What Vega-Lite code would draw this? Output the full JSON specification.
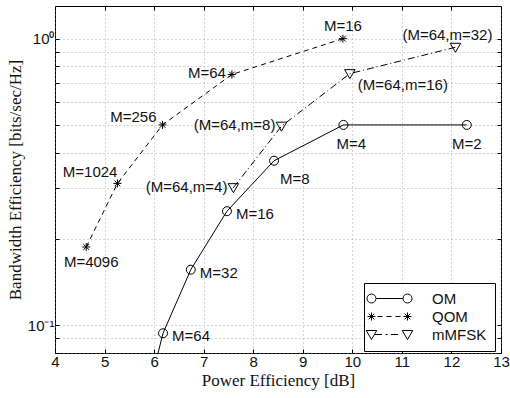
{
  "$schema": "https://vega.github.io/schema/vega-lite/v6.json",
  "width": 446,
  "height": 347,
  "autosize": {"type": "none"},
  "padding": {"left": 55, "top": 6, "right": 9, "bottom": 45},
  "background": "white",
  "config": {
    "view": {"stroke": "black", "strokeWidth": 1},
    "font": "Liberation Sans",
    "text": {"font": "Liberation Sans", "fontSize": 15, "color": "#111", "baseline": "middle"}
  },
  "data": {
    "values": [
      {"series": "OM", "label": "M=128", "x": 5.84, "y": 0.0547},
      {"series": "OM", "label": "M=64", "x": 6.18, "y": 0.09375},
      {"series": "OM", "label": "M=32", "x": 6.74, "y": 0.15625},
      {"series": "OM", "label": "M=16", "x": 7.47, "y": 0.25},
      {"series": "OM", "label": "M=8", "x": 8.42, "y": 0.375},
      {"series": "OM", "label": "M=4", "x": 9.82, "y": 0.5},
      {"series": "OM", "label": "M=2", "x": 12.31, "y": 0.5},
      {"series": "QOM", "label": "M=4096", "x": 4.63, "y": 0.1875},
      {"series": "QOM", "label": "M=1024", "x": 5.26, "y": 0.3125},
      {"series": "QOM", "label": "M=256", "x": 6.17, "y": 0.5},
      {"series": "QOM", "label": "M=64", "x": 7.57, "y": 0.75},
      {"series": "QOM", "label": "M=16", "x": 9.81, "y": 1.0},
      {"series": "mMFSK", "label": "(M=64,m=4)", "x": 7.6, "y": 0.302},
      {"series": "mMFSK", "label": "(M=64,m=8)", "x": 8.57, "y": 0.495},
      {"series": "mMFSK", "label": "(M=64,m=16)", "x": 9.95, "y": 0.755},
      {"series": "mMFSK", "label": "(M=64,m=32)", "x": 12.08, "y": 0.933}
    ]
  },
  "layer": [
    {
      "transform": [{"filter": "datum.series == 'OM'"}],
      "mark": {"type": "line", "color": "black", "strokeWidth": 1, "clip": true},
      "encoding": {
        "x": {
          "field": "x", "type": "quantitative",
          "scale": {"domain": [4, 13], "nice": false, "zero": false},
          "axis": {
            "orient": "bottom",
            "values": [4, 5, 6, 7, 8, 9, 10, 11, 12, 13],
            "format": "d",
            "grid": true, "gridDash": [1, 3], "gridColor": "#888", "gridOpacity": 0.7,
            "domain": false,
            "tickSize": -4, "tickColor": "black",
            "labelFont": "Liberation Sans", "labelFontSize": 15, "labelColor": "#111", "labelPadding": 5,
            "labelOverlap": false, "labelFlush": false,
            "title": "Power Efficiency [dB]",
            "titleFont": "Liberation Serif", "titleFontSize": 17, "titleFontWeight": "normal", "titleColor": "#111",
            "titlePadding": 3
          }
        },
        "y": {
          "field": "y", "type": "quantitative",
          "scale": {"type": "log", "domain": [0.08, 1.3], "nice": false},
          "axis": {
            "orient": "left",
            "values": [0.08, 0.09, 0.1, 0.2, 0.3, 0.4, 0.5, 0.6, 0.7, 0.8, 0.9, 1],
            "labelExpr": "abs(datum.value - 1) < 1e-9 ? '10⁰' : (abs(datum.value - 0.1) < 1e-9 ? '10⁻¹' : '')",
            "grid": true, "gridDash": [1, 3], "gridColor": "#888", "gridOpacity": 0.7,
            "domain": false,
            "tickSize": -4, "tickColor": "black",
            "labelFont": "Liberation Sans", "labelFontSize": 15, "labelColor": "#111", "labelPadding": 5,
            "labelOverlap": false, "labelFlush": false,
            "title": "Bandwidth Efficiency [bits/sec/Hz]",
            "titleFont": "Liberation Serif", "titleFontSize": 17, "titleFontWeight": "normal", "titleColor": "#111",
            "titlePadding": 3
          }
        },
        "order": {"field": "x", "type": "quantitative"}
      }
    },
    {
      "transform": [{"filter": "datum.series == 'QOM'"}],
      "mark": {"type": "line", "color": "black", "strokeWidth": 1, "strokeDash": [5, 4], "clip": true},
      "encoding": {
        "x": {"field": "x", "type": "quantitative", "axis": null},
        "y": {"field": "y", "type": "quantitative", "axis": null},
        "order": {"field": "x", "type": "quantitative"}
      }
    },
    {
      "transform": [{"filter": "datum.series == 'mMFSK'"}],
      "mark": {"type": "line", "color": "black", "strokeWidth": 1, "strokeDash": [7, 3, 1, 3], "clip": true},
      "encoding": {
        "x": {"field": "x", "type": "quantitative", "axis": null},
        "y": {"field": "y", "type": "quantitative", "axis": null},
        "order": {"field": "x", "type": "quantitative"}
      }
    },
    {
      "mark": {"type": "point", "filled": false, "stroke": "black", "strokeWidth": 1, "opacity": 1, "size": 100, "clip": true},
      "encoding": {
        "x": {
          "field": "x", "type": "quantitative",
          "axis": {"orient": "top", "values": [4, 5, 6, 7, 8, 9, 10, 11, 12, 13], "labels": false, "title": null, "grid": false, "domain": false, "tickSize": -4, "tickColor": "black"}
        },
        "y": {
          "field": "y", "type": "quantitative",
          "axis": {"orient": "right", "values": [0.08, 0.09, 0.1, 0.2, 0.3, 0.4, 0.5, 0.6, 0.7, 0.8, 0.9, 1], "labels": false, "title": null, "grid": false, "domain": false, "tickSize": -4, "tickColor": "black"}
        },
        "shape": {
          "field": "series", "type": "nominal",
          "scale": {"domain": ["OM", "QOM", "mMFSK"], "range": ["M0.9,0A0.9,0.9,0,1,1,-0.9,0A0.9,0.9,0,1,1,0.9,0", "M0,-0.8L0,0.8M-0.8,0L0.8,0M-0.57,-0.57L0.57,0.57M-0.57,0.57L0.57,-0.57", "M-1.05,-0.8L1.05,-0.8L0,1Z"]},
          "legend": null
        }
      }
    },
    {
      "mark": {"type": "point", "filled": false, "stroke": "black", "strokeWidth": 1, "opacity": 0, "size": 100},
      "encoding": {
        "x": {"field": "x", "type": "quantitative", "axis": null},
        "y": {"field": "y", "type": "quantitative", "axis": null},
        "shape": {
          "field": "series", "type": "nominal",
          "scale": {"domain": ["OM", "QOM", "mMFSK"], "range": [
            "M-0.7,0A0.9,0.9,0,1,1,-2.5,0A0.9,0.9,0,1,1,-0.7,0L4.7,0A0.9,0.9,0,1,1,6.5,0A0.9,0.9,0,1,1,4.7,0",
            "M-1.6,-0.8L-1.6,0.8M-2.4,0L-0.8,0M-2.17,-0.57L-1.03,0.57M-2.17,0.57L-1.03,-0.57M-0.4,0L0.6,0M1.4,0L2.4,0M3.2,0L4.2,0M5.6,-0.8L5.6,0.8M4.8,0L6.4,0M5.03,-0.57L6.17,0.57M5.03,0.57L6.17,-0.57",
            "M-2.65,-0.8L-0.55,-0.8L-1.6,1ZM-1,0L0.5,0M1.2,0L1.6,0M2.3,0L3.7,0M4.55,-0.8L6.65,-0.8L5.6,1Z"
          ]},
          "legend": {
            "orient": "none", "legendX": 309, "legendY": 277,
            "title": null, "padding": 8,
            "fillColor": "white", "strokeColor": "black",
            "labelFont": "Liberation Sans", "labelFontSize": 15, "labelColor": "#111", "labelOffset": 45,
            "rowPadding": 2,
            "symbolSize": 100, "symbolStrokeWidth": 1, "symbolStrokeColor": "black", "symbolFillColor": "transparent",
            "symbolOpacity": 1
          }
        }
      }
    },
    {
      "transform": [{"filter": "datum.series == 'OM' && indexof(['M=64','M=32','M=16'], datum.label) >= 0"}],
      "mark": {"type": "text", "align": "left", "dx": 9, "dy": 3},
      "encoding": {
        "x": {"field": "x", "type": "quantitative", "axis": null},
        "y": {"field": "y", "type": "quantitative", "axis": null},
        "text": {"field": "label"}
      }
    },
    {
      "transform": [{"filter": "datum.series == 'OM' && datum.label == 'M=8'"}],
      "mark": {"type": "text", "align": "left", "dx": 6, "dy": 18},
      "encoding": {
        "x": {"field": "x", "type": "quantitative", "axis": null},
        "y": {"field": "y", "type": "quantitative", "axis": null},
        "text": {"field": "label"}
      }
    },
    {
      "transform": [{"filter": "datum.series == 'OM' && datum.label == 'M=4'"}],
      "mark": {"type": "text", "align": "center", "dx": 8, "dy": 19},
      "encoding": {
        "x": {"field": "x", "type": "quantitative", "axis": null},
        "y": {"field": "y", "type": "quantitative", "axis": null},
        "text": {"field": "label"}
      }
    },
    {
      "transform": [{"filter": "datum.series == 'OM' && datum.label == 'M=2'"}],
      "mark": {"type": "text", "align": "center", "dx": 0, "dy": 19},
      "encoding": {
        "x": {"field": "x", "type": "quantitative", "axis": null},
        "y": {"field": "y", "type": "quantitative", "axis": null},
        "text": {"field": "label"}
      }
    },
    {
      "transform": [{"filter": "datum.series == 'QOM' && datum.label == 'M=4096'"}],
      "mark": {"type": "text", "align": "center", "dx": 5, "dy": 15},
      "encoding": {
        "x": {"field": "x", "type": "quantitative", "axis": null},
        "y": {"field": "y", "type": "quantitative", "axis": null},
        "text": {"field": "label"}
      }
    },
    {
      "transform": [{"filter": "datum.series == 'QOM' && datum.label == 'M=1024'"}],
      "mark": {"type": "text", "align": "right", "dx": 0, "dy": -11},
      "encoding": {
        "x": {"field": "x", "type": "quantitative", "axis": null},
        "y": {"field": "y", "type": "quantitative", "axis": null},
        "text": {"field": "label"}
      }
    },
    {
      "transform": [{"filter": "datum.series == 'QOM' && datum.label == 'M=256'"}],
      "mark": {"type": "text", "align": "right", "dx": -6, "dy": -8},
      "encoding": {
        "x": {"field": "x", "type": "quantitative", "axis": null},
        "y": {"field": "y", "type": "quantitative", "axis": null},
        "text": {"field": "label"}
      }
    },
    {
      "transform": [{"filter": "(datum.series == 'QOM' && datum.label == 'M=64') || (datum.series == 'mMFSK' && (datum.label == '(M=64,m=4)' || datum.label == '(M=64,m=8)'))"}],
      "mark": {"type": "text", "align": "right", "dx": -6, "dy": -1},
      "encoding": {
        "x": {"field": "x", "type": "quantitative", "axis": null},
        "y": {"field": "y", "type": "quantitative", "axis": null},
        "text": {"field": "label"}
      }
    },
    {
      "transform": [{"filter": "datum.series == 'QOM' && datum.label == 'M=16'"}],
      "mark": {"type": "text", "align": "center", "dx": 0, "dy": -13},
      "encoding": {
        "x": {"field": "x", "type": "quantitative", "axis": null},
        "y": {"field": "y", "type": "quantitative", "axis": null},
        "text": {"field": "label"}
      }
    },
    {
      "transform": [{"filter": "datum.series == 'mMFSK' && datum.label == '(M=64,m=16)'"}],
      "mark": {"type": "text", "align": "left", "dx": 8, "dy": 11},
      "encoding": {
        "x": {"field": "x", "type": "quantitative", "axis": null},
        "y": {"field": "y", "type": "quantitative", "axis": null},
        "text": {"field": "label"}
      }
    },
    {
      "transform": [{"filter": "datum.series == 'mMFSK' && datum.label == '(M=64,m=32)'"}],
      "mark": {"type": "text", "align": "center", "dx": -8, "dy": -12},
      "encoding": {
        "x": {"field": "x", "type": "quantitative", "axis": null},
        "y": {"field": "y", "type": "quantitative", "axis": null},
        "text": {"field": "label"}
      }
    }
  ],
  "resolve": {"axis": {"x": "independent", "y": "independent"}, "scale": {"shape": "independent"}}
}
